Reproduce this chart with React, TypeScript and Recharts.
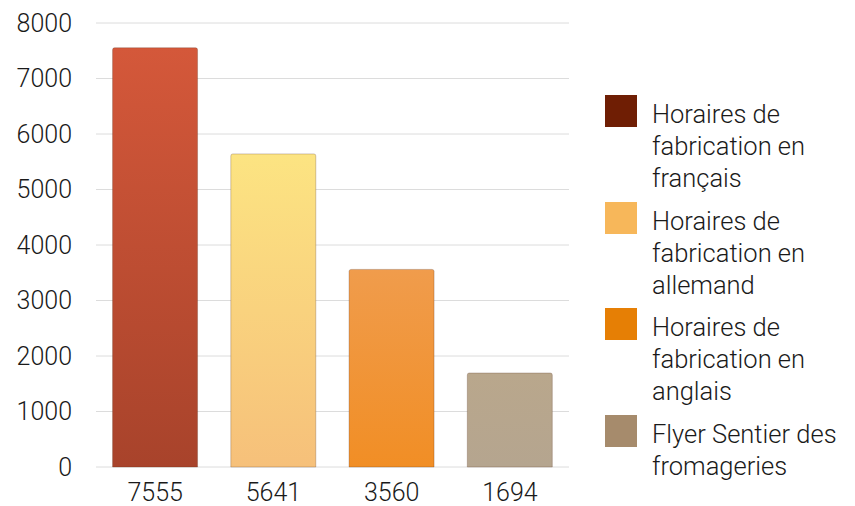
import { Bar, BarChart, CartesianGrid, Legend, XAxis, YAxis } from "recharts";

const categories = ["7555", "5641", "3560", "1694"];
const values = [7555, 5641, 3560, 1694];
const seriesNames = [
  "Horaires de fabrication en français",
  "Horaires de fabrication en allemand",
  "Horaires de fabrication en anglais",
  "Flyer Sentier des fromageries",
];
const yTicks = [0, 1000, 2000, 3000, 4000, 5000, 6000, 7000, 8000];

const LEGEND_COLORS = ["#6f1e04", "#f7b75a", "#e67f05", "#a68b6c"];
const BAR_GRADIENTS: [string, string][] = [
  ["#d4583a", "#a8432b"],
  ["#fce482", "#f6c07a"],
  ["#f09c4c", "#f18e25"],
  ["#b9a78c", "#b5a58f"],
];

const FONT = "Roboto, 'Liberation Sans', sans-serif";

const rows = categories.map((cat, i) => {
  const row: Record<string, string | number> = { name: cat };
  seriesNames.forEach((_, j) => {
    row[`s${j}`] = i === j ? values[i] : 0;
  });
  return row;
});

function LegendList() {
  return (
    <div style={{ fontFamily: FONT, fontWeight: 300 }}>
      {seriesNames.map((name, i) => (
        <div
          key={name}
          style={{ display: "flex", alignItems: "flex-start", height: 106.5 }}
        >
          <div
            style={{
              width: 32,
              height: 32,
              background: LEGEND_COLORS[i],
              flexShrink: 0,
            }}
          />
          <div
            style={{
              marginLeft: 15,
              width: 200,
              fontSize: 25.5,
              lineHeight: "32px",
              color: "#1a1a1a",
              marginTop: 3,
            }}
          >
            {name}
          </div>
        </div>
      ))}
    </div>
  );
}

export default function App() {
  return (
    <div style={{ position: "absolute", left: 0, top: 0, background: "#fff" }}>
      <BarChart
        width={855}
        height={506}
        data={rows}
        margin={{ top: 23, right: 36, left: 0, bottom: 6 }}
        barCategoryGap="14%"
      >
        <defs>
          {BAR_GRADIENTS.map(([a, b], i) => (
            <linearGradient key={i} id={`g${i}`} x1="0" y1="0" x2="0" y2="1">
              <stop offset="0%" stopColor={a} />
              <stop offset="100%" stopColor={b} />
            </linearGradient>
          ))}
        </defs>
        <CartesianGrid vertical={false} stroke="#dcdcdc" />
        <XAxis
          dataKey="name"
          axisLine={false}
          tickLine={false}
          height={33}
          tickMargin={10}
          tick={{ fontSize: 25, fill: "#1a1a1a", fontFamily: FONT, fontWeight: 300 }}
        />
        <YAxis
          domain={[0, 8000]}
          ticks={yTicks}
          axisLine={false}
          tickLine={false}
          tickSize={0}
          tickMargin={24}
          width={96}
          tick={{ fontSize: 25, fill: "#1a1a1a", fontFamily: FONT, fontWeight: 300 }}
        />
        {seriesNames.map((name, i) => (
          <Bar
            key={name}
            dataKey={`s${i}`}
            name={name}
            stackId="a"
            fill={`url(#g${i})`}
            stroke="rgba(80,40,20,0.25)"
            radius={[2, 2, 0, 0]}
            isAnimationActive={false}
          />
        ))}
        <Legend
          layout="vertical"
          align="right"
          verticalAlign="top"
          content={() => <LegendList />}
          wrapperStyle={{ top: 95, left: 605, width: 250 }}
        />
      </BarChart>
    </div>
  );
}
